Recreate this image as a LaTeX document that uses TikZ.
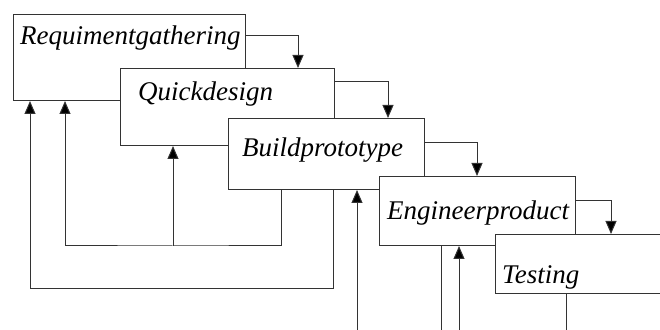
\documentclass[tikz,border=0pt]{standalone}
\usepackage{fontspec}
\setmainfont{Liberation Serif}
\usetikzlibrary{arrows.meta,calc}
\begin{document}
\begin{tikzpicture}[x=1pt,y=1pt,
  line/.style={draw=black!80,line width=1pt},
  arr/.style={line,-{Triangle[length=13pt,width=11pt,fill=black]}},
  stage/.style={line,fill=white,rectangle,inner sep=0pt,anchor=north west},
  lbl/.style={anchor=base west,inner sep=0pt,font=\fontsize{27}{30}\selectfont\itshape}]
\clip (0,0) rectangle (660,329);
% boxes
\node[stage,minimum width=232pt,minimum height=86pt] (b1) at (13,315) {};
\node[stage,minimum width=214pt,minimum height=77pt] (b2) at (120,261) {};
\node[stage,minimum width=196pt,minimum height=71pt] (b3) at (228,211) {};
\node[stage,minimum width=196pt,minimum height=69pt] (b4) at (379,153) {};
\node[stage,minimum width=200pt,minimum height=59pt] (b5) at (495,95) {};
% labels
\node[lbl] (t1) at (20,284) {Requimentgathering};
\node[lbl] (t2) at (138,228) {Quickdesign};
\node[lbl] (t3) at (242,172) {Buildprototype};
\node[lbl] (t4) at (387,109) {Engineerproduct};
\node[lbl] (t5) at (502,46) {Testing};
% forward arrows
\draw[arr] ($(b1.north east)+(0,-22)$) -| ($(b2.north west)+(178,0)$);
\draw[arr] ($(b2.north east)+(0,-14)$) -| ($(b3.north west)+(160,0)$);
\draw[arr] ($(b3.north east)+(0,-25)$) -| ($(b4.north west)+(98,0)$);
\draw[arr] ($(b4.north east)+(0,-25)$) -| ($(b5.north west)+(116,0)$);
% feedback loops
\coordinate (j1) at (173,83);
\coordinate (c1) at (65,83);
\coordinate (c2) at (30,41);
\draw[line] ($(b3.south west)+(53,0)$) |- (j1) -- (c1);
\draw[arr] (c1) -- (c1 |- b1.south);
\draw[arr] (j1) -- (j1 |- b2.south);
\draw[line] ($(b3.south west)+(105,0)$) |- (c2);
\draw[arr] (c2) -- (c2 |- b1.south);
\coordinate (f1) at (357,-5);
\coordinate (f2) at (441,-5);
\coordinate (f3) at (459,-5);
\coordinate (f4) at (566,-5);
\draw[arr] (f1) -- (f1 |- b3.south);
\draw[line] (f2 |- b4.south) -- (f2);
\draw[arr] (f3) -- (f3 |- b4.south);
\draw[line] (f4 |- b5.south) -- (f4);
\end{tikzpicture}
\end{document}
